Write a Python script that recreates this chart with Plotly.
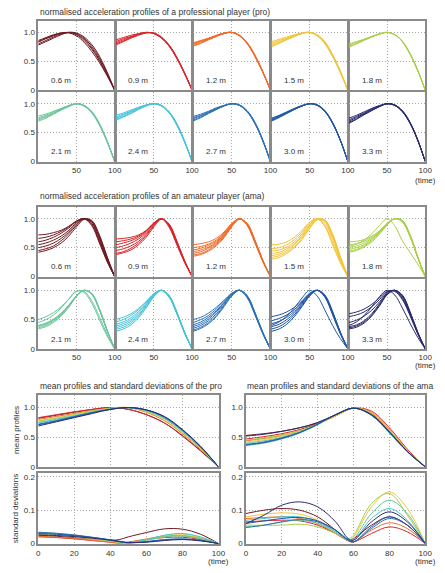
import plotly.graph_objects as go

# ---------------- data ----------------
T = [0, 10, 20, 30, 40, 50, 60, 70, 80, 90, 100]
T_STD_PRO = [0, 10, 20, 30, 40, 45, 50, 60, 70, 80, 90, 100]
T_STD_AMA = [0, 10, 20, 30, 40, 50, 57, 60, 70, 80, 90, 100]

DISTANCES = ["0.6 m", "0.9 m", "1.2 m", "1.5 m", "1.8 m", "2.1 m", "2.4 m", "2.7 m", "3.0 m", "3.3 m"]
COLORS = ["#6e1c22", "#d9262b", "#f06a28", "#f2c53a", "#a9cf48",
          "#6cc59b", "#45c3d8", "#2d72b8", "#2156a5", "#2a2c6e"]

X_TICKS_SMALL = [50, 100]
X_TICKTEXT_SMALL = ["50", "100"]
Y_TICKS_PROF = [0, 0.5, 1.0]
Y_TICKTEXT_PROF = ["0", "0.5", "1.0"]
X_TICKS_BIG = [0, 20, 40, 60, 80, 100]
X_TICKTEXT_BIG = ["0", "20", "40", "60", "80", "100"]
Y_TICKS_STD = [0, 0.1, 0.2]
Y_TICKTEXT_STD = ["0", "0.1", "0.2"]

# professional player, one list of curves per distance
PRO_06 = [[0.86,0.91,0.96,0.99,1.00,0.96,0.86,0.71,0.51,0.27,0.0],
          [0.83,0.89,0.94,0.98,1.00,0.97,0.88,0.73,0.53,0.28,0.0],
          [0.80,0.86,0.92,0.97,1.00,0.98,0.90,0.76,0.56,0.30,0.0],
          [0.78,0.84,0.90,0.96,1.00,0.99,0.92,0.79,0.59,0.32,0.0],
          [0.84,0.90,0.95,0.99,0.99,0.94,0.83,0.67,0.48,0.25,0.0]]
PRO_09 = [[0.87,0.91,0.95,0.98,1.00,0.98,0.90,0.76,0.55,0.29,0.0],
          [0.84,0.89,0.93,0.97,1.00,0.98,0.90,0.76,0.55,0.29,0.0],
          [0.82,0.87,0.92,0.97,1.00,0.98,0.91,0.77,0.56,0.30,0.0],
          [0.80,0.85,0.91,0.96,0.99,0.99,0.91,0.78,0.57,0.30,0.0],
          [0.78,0.84,0.90,0.95,0.99,0.99,0.92,0.78,0.57,0.31,0.0]]
PRO_12 = [[0.82,0.86,0.90,0.95,0.99,1.00,0.94,0.80,0.58,0.31,0.0],
          [0.80,0.85,0.89,0.94,0.99,1.00,0.94,0.81,0.59,0.31,0.0],
          [0.79,0.84,0.89,0.94,0.98,1.00,0.94,0.81,0.59,0.32,0.0],
          [0.77,0.82,0.88,0.93,0.98,1.00,0.95,0.82,0.60,0.32,0.0],
          [0.76,0.81,0.87,0.93,0.98,1.00,0.95,0.82,0.61,0.33,0.0]]
PRO_15 = [[0.84,0.88,0.92,0.96,0.99,1.00,0.94,0.80,0.58,0.31,0.0],
          [0.81,0.86,0.90,0.95,0.99,1.00,0.94,0.81,0.59,0.31,0.0],
          [0.79,0.84,0.89,0.94,0.98,1.00,0.95,0.82,0.60,0.32,0.0],
          [0.77,0.82,0.88,0.93,0.98,1.00,0.95,0.83,0.61,0.33,0.0],
          [0.75,0.81,0.87,0.93,0.98,1.00,0.96,0.84,0.62,0.34,0.0]]
PRO_18 = [[0.80,0.84,0.88,0.93,0.98,1.00,0.96,0.84,0.62,0.34,0.0],
          [0.78,0.83,0.88,0.93,0.97,1.00,0.96,0.84,0.63,0.34,0.0],
          [0.76,0.81,0.87,0.92,0.97,1.00,0.96,0.85,0.63,0.35,0.0],
          [0.74,0.80,0.86,0.92,0.97,1.00,0.96,0.85,0.64,0.35,0.0]]
PRO_21 = [[0.79,0.82,0.87,0.92,0.97,1.00,0.96,0.84,0.63,0.34,0.0],
          [0.76,0.80,0.86,0.91,0.97,1.00,0.96,0.85,0.64,0.35,0.0],
          [0.74,0.78,0.84,0.90,0.96,1.00,0.97,0.86,0.65,0.35,0.0],
          [0.72,0.77,0.83,0.90,0.96,1.00,0.97,0.86,0.65,0.36,0.0],
          [0.70,0.75,0.82,0.89,0.95,1.00,0.97,0.87,0.66,0.36,0.0]]
PRO_24 = [[0.80,0.84,0.89,0.94,0.98,1.00,0.96,0.84,0.63,0.34,0.0],
          [0.77,0.82,0.87,0.93,0.98,1.00,0.96,0.85,0.64,0.35,0.0],
          [0.75,0.80,0.86,0.92,0.97,1.00,0.97,0.85,0.64,0.35,0.0],
          [0.73,0.78,0.84,0.91,0.97,1.00,0.97,0.86,0.65,0.36,0.0],
          [0.71,0.77,0.83,0.90,0.96,1.00,0.97,0.86,0.66,0.36,0.0]]
PRO_27 = [[0.78,0.82,0.87,0.93,0.97,1.00,0.97,0.86,0.65,0.36,0.0],
          [0.76,0.80,0.86,0.92,0.97,1.00,0.97,0.86,0.66,0.36,0.0],
          [0.74,0.79,0.85,0.91,0.97,1.00,0.97,0.87,0.66,0.37,0.0],
          [0.72,0.77,0.84,0.90,0.96,1.00,0.98,0.87,0.67,0.37,0.0],
          [0.70,0.76,0.83,0.90,0.96,1.00,0.98,0.88,0.68,0.38,0.0]]
PRO_30 = [[0.75,0.80,0.86,0.92,0.97,1.00,0.97,0.86,0.66,0.37,0.0],
          [0.74,0.79,0.85,0.91,0.97,1.00,0.97,0.87,0.66,0.37,0.0],
          [0.72,0.78,0.84,0.91,0.96,1.00,0.98,0.87,0.67,0.37,0.0],
          [0.71,0.77,0.84,0.90,0.96,1.00,0.98,0.88,0.67,0.38,0.0],
          [0.70,0.76,0.83,0.90,0.96,1.00,0.98,0.88,0.68,0.38,0.0]]
PRO_33 = [[0.75,0.80,0.86,0.92,0.97,1.00,0.97,0.86,0.66,0.37,0.0],
          [0.72,0.78,0.84,0.91,0.96,1.00,0.97,0.87,0.67,0.37,0.0],
          [0.70,0.76,0.83,0.90,0.96,1.00,0.98,0.87,0.67,0.38,0.0],
          [0.68,0.74,0.82,0.89,0.95,1.00,0.98,0.88,0.68,0.38,0.0],
          [0.66,0.73,0.81,0.88,0.95,1.00,0.98,0.88,0.68,0.38,0.0]]

# amateur player
AMA_06 = [[0.72,0.73,0.76,0.80,0.87,0.96,1.00,0.88,0.58,0.26,0.0],
          [0.66,0.68,0.72,0.78,0.86,0.96,1.00,0.90,0.60,0.27,0.0],
          [0.60,0.63,0.68,0.75,0.84,0.95,1.00,0.92,0.63,0.29,0.0],
          [0.55,0.58,0.63,0.70,0.80,0.93,1.00,0.94,0.66,0.30,0.0],
          [0.50,0.53,0.58,0.66,0.77,0.91,1.00,0.95,0.68,0.32,0.0],
          [0.45,0.48,0.53,0.62,0.74,0.89,1.00,0.96,0.70,0.34,0.0],
          [0.42,0.45,0.50,0.58,0.70,0.86,0.99,0.97,0.72,0.35,0.0]]
AMA_09 = [[0.65,0.66,0.68,0.72,0.80,0.93,1.00,0.85,0.55,0.25,0.0],
          [0.60,0.62,0.65,0.70,0.79,0.92,1.00,0.87,0.57,0.26,0.0],
          [0.55,0.58,0.62,0.68,0.78,0.92,1.00,0.88,0.58,0.26,0.0],
          [0.50,0.53,0.58,0.65,0.76,0.91,1.00,0.89,0.59,0.27,0.0],
          [0.45,0.48,0.53,0.61,0.73,0.89,1.00,0.90,0.60,0.27,0.0],
          [0.40,0.43,0.49,0.58,0.71,0.88,1.00,0.90,0.61,0.28,0.0],
          [0.38,0.41,0.46,0.55,0.68,0.86,0.99,0.91,0.62,0.28,0.0]]
AMA_12 = [[0.55,0.57,0.60,0.66,0.77,0.92,1.00,0.88,0.58,0.26,0.0],
          [0.50,0.52,0.56,0.63,0.75,0.91,1.00,0.89,0.59,0.27,0.0],
          [0.46,0.49,0.54,0.61,0.73,0.90,1.00,0.90,0.60,0.27,0.0],
          [0.43,0.46,0.51,0.59,0.72,0.89,1.00,0.90,0.61,0.28,0.0],
          [0.40,0.43,0.49,0.57,0.70,0.88,1.00,0.91,0.62,0.28,0.0],
          [0.37,0.40,0.46,0.55,0.69,0.87,1.00,0.91,0.62,0.28,0.0],
          [0.35,0.38,0.44,0.53,0.67,0.86,0.99,0.92,0.63,0.29,0.0]]
AMA_15 = [[0.55,0.56,0.60,0.68,0.80,0.94,1.00,0.86,0.55,0.24,0.0],
          [0.48,0.50,0.55,0.64,0.77,0.93,1.00,0.88,0.58,0.26,0.0],
          [0.44,0.46,0.51,0.60,0.74,0.91,1.00,0.92,0.64,0.29,0.0],
          [0.40,0.42,0.48,0.57,0.71,0.89,1.00,0.95,0.68,0.31,0.0],
          [0.36,0.39,0.45,0.55,0.69,0.87,1.00,0.96,0.70,0.33,0.0],
          [0.33,0.36,0.42,0.52,0.66,0.85,0.99,0.97,0.72,0.34,0.0],
          [0.30,0.33,0.40,0.50,0.64,0.83,0.98,0.98,0.74,0.36,0.0]]
AMA_18 = [[0.60,0.61,0.64,0.70,0.79,0.92,1.00,0.97,0.72,0.34,0.0],
          [0.55,0.57,0.61,0.68,0.78,0.91,1.00,0.97,0.73,0.35,0.0],
          [0.50,0.53,0.58,0.66,0.77,0.91,1.00,0.96,0.72,0.34,0.0],
          [0.47,0.50,0.55,0.64,0.76,0.90,1.00,0.96,0.71,0.34,0.0],
          [0.44,0.47,0.53,0.62,0.75,0.90,1.00,0.95,0.70,0.33,0.0],
          [0.52,0.56,0.63,0.74,0.88,1.00,0.88,0.62,0.42,0.22,0.0],
          [0.42,0.45,0.51,0.60,0.73,0.89,1.00,0.94,0.69,0.33,0.0]]
AMA_21 = [[0.50,0.55,0.62,0.72,0.85,0.98,0.98,0.82,0.55,0.25,0.0],
          [0.45,0.50,0.58,0.70,0.85,0.99,0.96,0.78,0.50,0.22,0.0],
          [0.40,0.44,0.51,0.61,0.75,0.91,1.00,0.93,0.66,0.31,0.0],
          [0.38,0.42,0.49,0.59,0.74,0.90,1.00,0.94,0.67,0.32,0.0],
          [0.36,0.40,0.47,0.58,0.73,0.90,1.00,0.94,0.68,0.32,0.0],
          [0.34,0.38,0.45,0.56,0.71,0.89,1.00,0.95,0.69,0.33,0.0],
          [0.40,0.43,0.50,0.60,0.74,0.90,1.00,0.93,0.67,0.31,0.0]]
AMA_24 = [[0.50,0.54,0.60,0.69,0.81,0.94,1.00,0.88,0.60,0.27,0.0],
          [0.46,0.50,0.57,0.67,0.80,0.94,1.00,0.89,0.61,0.28,0.0],
          [0.42,0.46,0.53,0.64,0.78,0.93,1.00,0.89,0.61,0.28,0.0],
          [0.39,0.43,0.50,0.61,0.76,0.92,1.00,0.90,0.62,0.28,0.0],
          [0.36,0.40,0.47,0.58,0.74,0.91,1.00,0.90,0.62,0.29,0.0],
          [0.33,0.37,0.44,0.56,0.72,0.90,1.00,0.91,0.63,0.29,0.0],
          [0.30,0.34,0.41,0.53,0.70,0.89,1.00,0.91,0.63,0.29,0.0]]
AMA_27 = [[0.50,0.54,0.61,0.71,0.83,0.95,1.00,0.87,0.58,0.26,0.0],
          [0.45,0.50,0.57,0.68,0.81,0.94,1.00,0.88,0.59,0.27,0.0],
          [0.41,0.46,0.54,0.65,0.79,0.94,1.00,0.89,0.60,0.27,0.0],
          [0.38,0.43,0.51,0.63,0.78,0.93,1.00,0.89,0.60,0.27,0.0],
          [0.35,0.40,0.48,0.60,0.76,0.92,1.00,0.90,0.61,0.28,0.0],
          [0.32,0.37,0.45,0.57,0.74,0.91,1.00,0.90,0.62,0.28,0.0],
          [0.30,0.35,0.43,0.55,0.72,0.90,1.00,0.91,0.62,0.29,0.0]]
AMA_30 = [[0.55,0.58,0.63,0.71,0.82,0.95,1.00,0.88,0.58,0.26,0.0],
          [0.48,0.52,0.58,0.67,0.80,0.94,1.00,0.89,0.60,0.27,0.0],
          [0.43,0.47,0.54,0.64,0.78,0.93,1.00,0.90,0.61,0.28,0.0],
          [0.38,0.42,0.50,0.61,0.76,0.92,1.00,0.90,0.62,0.28,0.0],
          [0.34,0.38,0.46,0.58,0.74,0.91,1.00,0.91,0.63,0.29,0.0],
          [0.30,0.34,0.42,0.55,0.72,0.90,1.00,0.92,0.64,0.29,0.0],
          [0.40,0.46,0.56,0.70,0.87,1.00,0.90,0.66,0.40,0.18,0.0]]
AMA_33 = [[0.60,0.63,0.68,0.76,0.87,0.98,0.98,0.84,0.57,0.26,0.0],
          [0.55,0.58,0.63,0.72,0.84,0.97,0.99,0.86,0.59,0.27,0.0],
          [0.38,0.41,0.48,0.60,0.77,0.94,1.00,0.90,0.62,0.28,0.0],
          [0.36,0.39,0.46,0.58,0.75,0.93,1.00,0.91,0.63,0.29,0.0],
          [0.40,0.46,0.57,0.72,0.89,1.00,0.92,0.70,0.44,0.20,0.0],
          [0.34,0.37,0.44,0.56,0.73,0.92,1.00,0.92,0.64,0.29,0.0],
          [0.45,0.49,0.56,0.66,0.80,0.95,1.00,0.88,0.60,0.27,0.0]]

# mean profiles (one per distance)
PRO_MEAN = [[0.82,0.87,0.92,0.97,1.00,0.97,0.88,0.74,0.52,0.27,0.0],
            [0.83,0.88,0.93,0.97,1.00,0.97,0.88,0.74,0.53,0.28,0.0],
            [0.80,0.85,0.90,0.95,0.99,1.00,0.92,0.78,0.56,0.30,0.0],
            [0.78,0.83,0.89,0.94,0.99,1.00,0.93,0.79,0.57,0.31,0.0],
            [0.77,0.82,0.88,0.94,0.98,1.00,0.94,0.81,0.59,0.32,0.0],
            [0.74,0.80,0.86,0.92,0.98,1.00,0.95,0.82,0.60,0.33,0.0],
            [0.75,0.80,0.86,0.92,0.98,1.00,0.95,0.82,0.60,0.33,0.0],
            [0.72,0.78,0.85,0.92,0.97,1.00,0.96,0.84,0.62,0.34,0.0],
            [0.71,0.77,0.84,0.91,0.97,1.00,0.96,0.84,0.62,0.34,0.0],
            [0.69,0.76,0.83,0.90,0.97,1.00,0.96,0.85,0.63,0.35,0.0]]
AMA_MEAN = [[0.53,0.56,0.60,0.66,0.74,0.87,0.99,0.90,0.60,0.27,0.0],
            [0.47,0.51,0.56,0.63,0.73,0.86,0.99,0.94,0.66,0.30,0.0],
            [0.44,0.48,0.53,0.61,0.72,0.86,0.99,0.92,0.63,0.28,0.0],
            [0.42,0.46,0.52,0.60,0.72,0.86,0.99,0.91,0.62,0.28,0.0],
            [0.45,0.49,0.54,0.61,0.72,0.87,0.99,0.89,0.60,0.27,0.0],
            [0.40,0.44,0.50,0.59,0.72,0.88,0.99,0.88,0.58,0.26,0.0],
            [0.36,0.40,0.47,0.57,0.71,0.88,0.99,0.87,0.57,0.25,0.0],
            [0.38,0.42,0.49,0.58,0.72,0.88,0.99,0.87,0.58,0.26,0.0],
            [0.37,0.41,0.48,0.58,0.72,0.88,0.99,0.88,0.59,0.26,0.0],
            [0.52,0.55,0.60,0.66,0.75,0.88,0.99,0.88,0.59,0.26,0.0]]

# standard deviations (one per distance)
PRO_STD = [[0.025,0.022,0.018,0.014,0.010,0.012,0.020,0.033,0.044,0.043,0.028,0.0],
           [0.020,0.018,0.014,0.009,0.004,0.002,0.004,0.012,0.018,0.019,0.012,0.0],
           [0.022,0.019,0.015,0.010,0.004,0.001,0.004,0.014,0.022,0.024,0.015,0.0],
           [0.028,0.025,0.020,0.014,0.007,0.003,0.002,0.012,0.024,0.028,0.018,0.0],
           [0.030,0.027,0.022,0.016,0.008,0.004,0.002,0.010,0.020,0.024,0.016,0.0],
           [0.033,0.030,0.025,0.018,0.010,0.005,0.002,0.010,0.020,0.022,0.014,0.0],
           [0.032,0.029,0.024,0.017,0.009,0.005,0.002,0.012,0.025,0.030,0.020,0.0],
           [0.034,0.031,0.026,0.019,0.011,0.006,0.002,0.006,0.012,0.014,0.010,0.0],
           [0.030,0.028,0.024,0.018,0.011,0.007,0.003,0.005,0.011,0.013,0.009,0.0],
           [0.026,0.024,0.021,0.016,0.010,0.006,0.003,0.004,0.009,0.012,0.008,0.0]]
AMA_STD = [[0.090,0.100,0.105,0.100,0.080,0.040,0.010,0.015,0.055,0.080,0.055,0.0],
           [0.065,0.068,0.070,0.068,0.055,0.030,0.008,0.005,0.030,0.050,0.035,0.0],
           [0.075,0.078,0.080,0.075,0.060,0.030,0.008,0.005,0.040,0.062,0.045,0.0],
           [0.080,0.088,0.092,0.088,0.070,0.035,0.010,0.020,0.110,0.155,0.105,0.0],
           [0.055,0.055,0.055,0.058,0.050,0.030,0.015,0.025,0.120,0.150,0.085,0.0],
           [0.050,0.055,0.065,0.070,0.060,0.035,0.010,0.015,0.090,0.130,0.090,0.0],
           [0.070,0.075,0.080,0.080,0.065,0.035,0.010,0.010,0.075,0.105,0.070,0.0],
           [0.048,0.055,0.065,0.072,0.065,0.040,0.012,0.005,0.045,0.075,0.055,0.0],
           [0.060,0.068,0.075,0.078,0.068,0.040,0.010,0.005,0.050,0.080,0.055,0.0],
           [0.060,0.085,0.115,0.125,0.110,0.065,0.015,0.010,0.065,0.095,0.065,0.0]]

PRO_PANELS = [PRO_06, PRO_09, PRO_12, PRO_15, PRO_18, PRO_21, PRO_24, PRO_27, PRO_30, PRO_33]
AMA_PANELS = [AMA_06, AMA_09, AMA_12, AMA_15, AMA_18, AMA_21, AMA_24, AMA_27, AMA_30, AMA_33]

# ---------------- layout helpers ----------------
W, H = 445, 573
FONT = "Liberation Sans, Arial, sans-serif"
TXT = "#333333"
FRAME = "#8a8a8a"
GRID = "#a8a8a8"
FS = 8

fig = go.Figure()
layout = {}
annotations = []
counter = [0]


def make_axes(x0, x1, y0, y1, xrange, yrange, xtv, xtt, ytv, ytt, showx, showy):
    counter[0] += 1
    n = counter[0]
    s = "" if n == 1 else str(n)
    common = dict(showline=True, mirror=True, linecolor=FRAME, linewidth=1.5,
                  zeroline=False, showgrid=True, gridcolor=GRID, griddash="1px,2px",
                  gridwidth=1, ticks="", tickfont=dict(size=FS, color=TXT, family=FONT),
                  fixedrange=True, tickmode="array")
    layout["xaxis" + s] = dict(domain=[x0 / W, x1 / W], range=xrange, tickvals=xtv,
                               ticktext=xtt, showticklabels=showx, anchor="y" + s, **common)
    layout["yaxis" + s] = dict(domain=[1 - y1 / H, 1 - y0 / H], range=yrange, tickvals=ytv,
                               ticktext=ytt, showticklabels=showy, anchor="x" + s, **common)
    return "x" + s, "y" + s


def text(x, y, s, xanchor="left", angle=0, size=FS):
    annotations.append(dict(x=x / W, y=1 - y / H, xref="paper", yref="paper", text=s,
                            showarrow=False, xanchor=xanchor, yanchor="middle",
                            textangle=angle, font=dict(size=size, color=TXT, family=FONT)))


COL_X = [(37, 115), (116, 194), (195, 274), (275, 353), (354, 432)]
PRO_ROWS = [(21, 91), (93, 163)]
AMA_ROWS = [(209, 279), (281, 352)]


def small_grid(panels, rows):
    for i, curves in enumerate(panels):
        r, c = divmod(i, 5)
        x0, x1 = COL_X[c]
        y0, y1 = rows[r]
        xa, ya = make_axes(x0, x1, y0, y1, [0, 100], [0, 1.2],
                           X_TICKS_SMALL, X_TICKTEXT_SMALL, Y_TICKS_PROF, Y_TICKTEXT_PROF,
                           r == 1, c == 0)
        for cv in curves:
            fig.add_trace(go.Scatter(x=T, y=cv, mode="lines", xaxis=xa, yaxis=ya,
                                     line=dict(color=COLORS[i], width=1, shape="spline"),
                                     hoverinfo="skip", showlegend=False))
        text(x0 + 11, y1 - 10, DISTANCES[i])


small_grid(PRO_PANELS, PRO_ROWS)
small_grid(AMA_PANELS, AMA_ROWS)

# big panels
for (x0, x1), means, stds, tstd in [((37, 221), PRO_MEAN, PRO_STD, T_STD_PRO),
                                     ((249, 432), AMA_MEAN, AMA_STD, T_STD_AMA)]:
    xa, ya = make_axes(x0, x1, 398, 471, [0, 100], [0, 1.22],
                       X_TICKS_BIG, X_TICKTEXT_BIG, Y_TICKS_PROF, Y_TICKTEXT_PROF, False, True)
    for i, cv in enumerate(means):
        fig.add_trace(go.Scatter(x=T, y=cv, mode="lines", xaxis=xa, yaxis=ya,
                                 line=dict(color=COLORS[i], width=1, shape="spline"),
                                 hoverinfo="skip", showlegend=False))
    xa, ya = make_axes(x0, x1, 477, 549, [0, 100], [-0.002, 0.212],
                       X_TICKS_BIG, X_TICKTEXT_BIG, Y_TICKS_STD, Y_TICKTEXT_STD, True, True)
    for i, cv in enumerate(stds):
        fig.add_trace(go.Scatter(x=tstd, y=cv, mode="lines", xaxis=xa, yaxis=ya,
                                 line=dict(color=COLORS[i], width=1, shape="spline"),
                                 hoverinfo="skip", showlegend=False))

# titles and labels
text(37, 12, "normalised acceleration profiles of a professional player (pro)", size=8.5)
text(37, 198, "normalised acceleration profiles of an amateur player (ama)", size=8.5)
text(37, 389, "mean profiles and standard deviations of the pro", size=8.5)
text(248, 389, "mean profiles and standard deviations of the ama", size=8.5)
text(432, 182, "(time)", xanchor="center")
text(432, 369, "(time)", xanchor="center")
text(221, 566, "(time)", xanchor="center")
text(432, 566, "(time)", xanchor="center")
text(14, 434, "mean profiles", xanchor="center", angle=-90)
text(14, 513, "standard deviations", xanchor="center", angle=-90)

fig.update_layout(width=W, height=H, margin=dict(l=0, r=0, t=0, b=0),
                  paper_bgcolor="white", plot_bgcolor="white",
                  font=dict(family=FONT, size=FS, color=TXT),
                  annotations=annotations, showlegend=False, **layout)

fig.write_html("out.html", config={"displayModeBar": False},
               post_script="document.body.style.margin='0';document.body.style.padding='0';")
